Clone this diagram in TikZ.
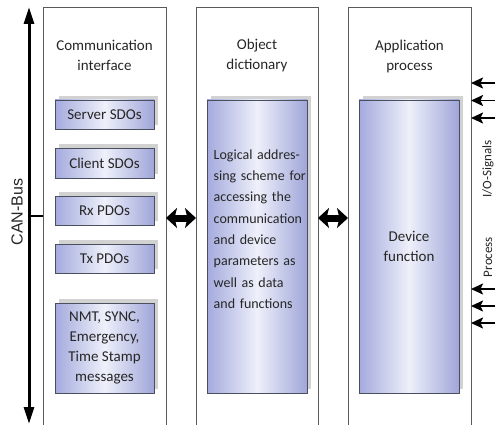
\documentclass[tikz,border=0pt]{standalone}
\usepackage{fontspec}
\setmainfont{Carlito}
\newfontfamily\arialf{Liberation Sans}
\usetikzlibrary{arrows.meta,backgrounds}
\definecolor{sideblue}{HTML}{A4AADD}
\definecolor{midblue}{HTML}{EEF0FA}
\definecolor{rightblue}{HTML}{A0A6D9}
\definecolor{framegray}{HTML}{5A5A5A}
\definecolor{boxborder}{HTML}{4A4F5E}
\definecolor{shadowgray}{HTML}{D2D2D2}
\definecolor{txt}{HTML}{262626}
\begin{document}
\begin{tikzpicture}[x=1pt,y=-1pt,
  colframe/.style={draw=framegray, line width=0.8pt},
  inbox/.style={draw=boxborder, line width=0.9pt, left color=sideblue, right color=rightblue, middle color=midblue, inner sep=0pt, text=txt, align=center, font=\fontsize{15}{20}\selectfont},
  title/.style={text=txt, align=center, font=\fontsize{15}{20}\selectfont, inner sep=0pt},
  busarrow/.style={line width=3pt, {Triangle[length=17pt,width=10pt]}-{Triangle[length=17pt,width=10pt]}},
  fatarrow/.style={line width=7pt, {Stealth[length=11pt,width=20pt,inset=2.5pt]}-{Stealth[length=11pt,width=20pt,inset=2.5pt]}},
  ioarrow/.style={line width=1.8pt, -{Stealth[length=12pt,width=11pt,inset=2.5pt]}},
  sidelabel/.style={text=txt, inner sep=0pt, rotate=90}
]
\useasboundingbox (0,0) rectangle (495,425);

% columns (open at the bottom)
\draw[colframe] (43,426) -- (43,7) -- (166,7) -- (166,426);
\draw[colframe] (196,426) -- (196,7) -- (318,7) -- (318,426);
\draw[colframe] (348,426) -- (348,7) -- (471,7) -- (471,426);

% titles
\node[title] (t1) at (104.5,55) {Communication\\interface};
\node[title] (t2) at (257,56) {Object\\dictionary};
\node[title] (t3) at (409.5,57) {Application\\process};

% inner boxes
\node[inbox, minimum width=99, minimum height=29] (srv) at (104.5,114.5) {Server SDOs};
\node[inbox, minimum width=99, minimum height=30] (cli) at (104.5,163) {Client SDOs};
\node[inbox, minimum width=99, minimum height=29] (rx) at (104.5,210.5) {Rx PDOs};
\node[inbox, minimum width=99, minimum height=29] (tx) at (104.5,258.5) {Tx PDOs};
\node[inbox, minimum width=99, minimum height=90] (nmt) at (104.5,348) {NMT, SYNC,\\Emergency,\\Time Stamp\\messages};
\node[inbox, minimum width=100, minimum height=293] (od) at (257,246.5) {};
\node[inbox, minimum width=100, minimum height=293] (df) at (409,246.5) {Device\\function};

\node[text=txt, inner sep=0pt, anchor=west, align=left, text width=95,
      font=\fontsize{14}{21.3}\selectfont] (odtext) at (213.5,229)
  {Logical addres-\\sing scheme for\\accessing the\\communication\\and device\\parameters as\\well as data\\and functions};

% shadows
\begin{scope}[on background layer]
  \fill[white] (0,0) rectangle (495,425);
  \foreach \n in {srv,cli,rx,tx,nmt,od,df}
    \fill[shadowgray] ([shift={(4,-4)}]\n.south west) rectangle ([shift={(4,-4)}]\n.north east);
\end{scope}

% CAN bus
\coordinate (bustop) at (29,7);
\coordinate (busbot) at (29,424);
\coordinate (bustap) at (29,216);
\coordinate (col1l) at (43,216);
\draw[busarrow] (busbot) -- (bustop);
\draw[line width=2pt] (bustap) -- (col1l);
\node[sidelabel, font=\arialf\fontsize{16}{18}\selectfont] (can) at (17,212) {CAN-Bus};

% double arrows between columns
\coordinate (c1r) at (166,218);
\coordinate (c2l) at (196,218);
\coordinate (c2r) at (318,218);
\coordinate (c3l) at (348,218);
\draw[fatarrow] (c1r) -- (c2l);
\draw[fatarrow] (c2r) -- (c3l);

% process I/O signals
\foreach \yy [count=\i] in {83,100.5,118,289,306,323} {
  \coordinate (ios\i) at (496,\yy);
  \coordinate (ioe\i) at (471,\yy);
  \draw[ioarrow] (ios\i) -- (ioe\i);
}
\node[sidelabel, font=\fontsize{13}{15}\selectfont] (iosig) at (488,169) {I/O-Signals};
\node[sidelabel, font=\fontsize{13}{15}\selectfont] (proc) at (488,257) {Process};
\end{tikzpicture}
\end{document}
